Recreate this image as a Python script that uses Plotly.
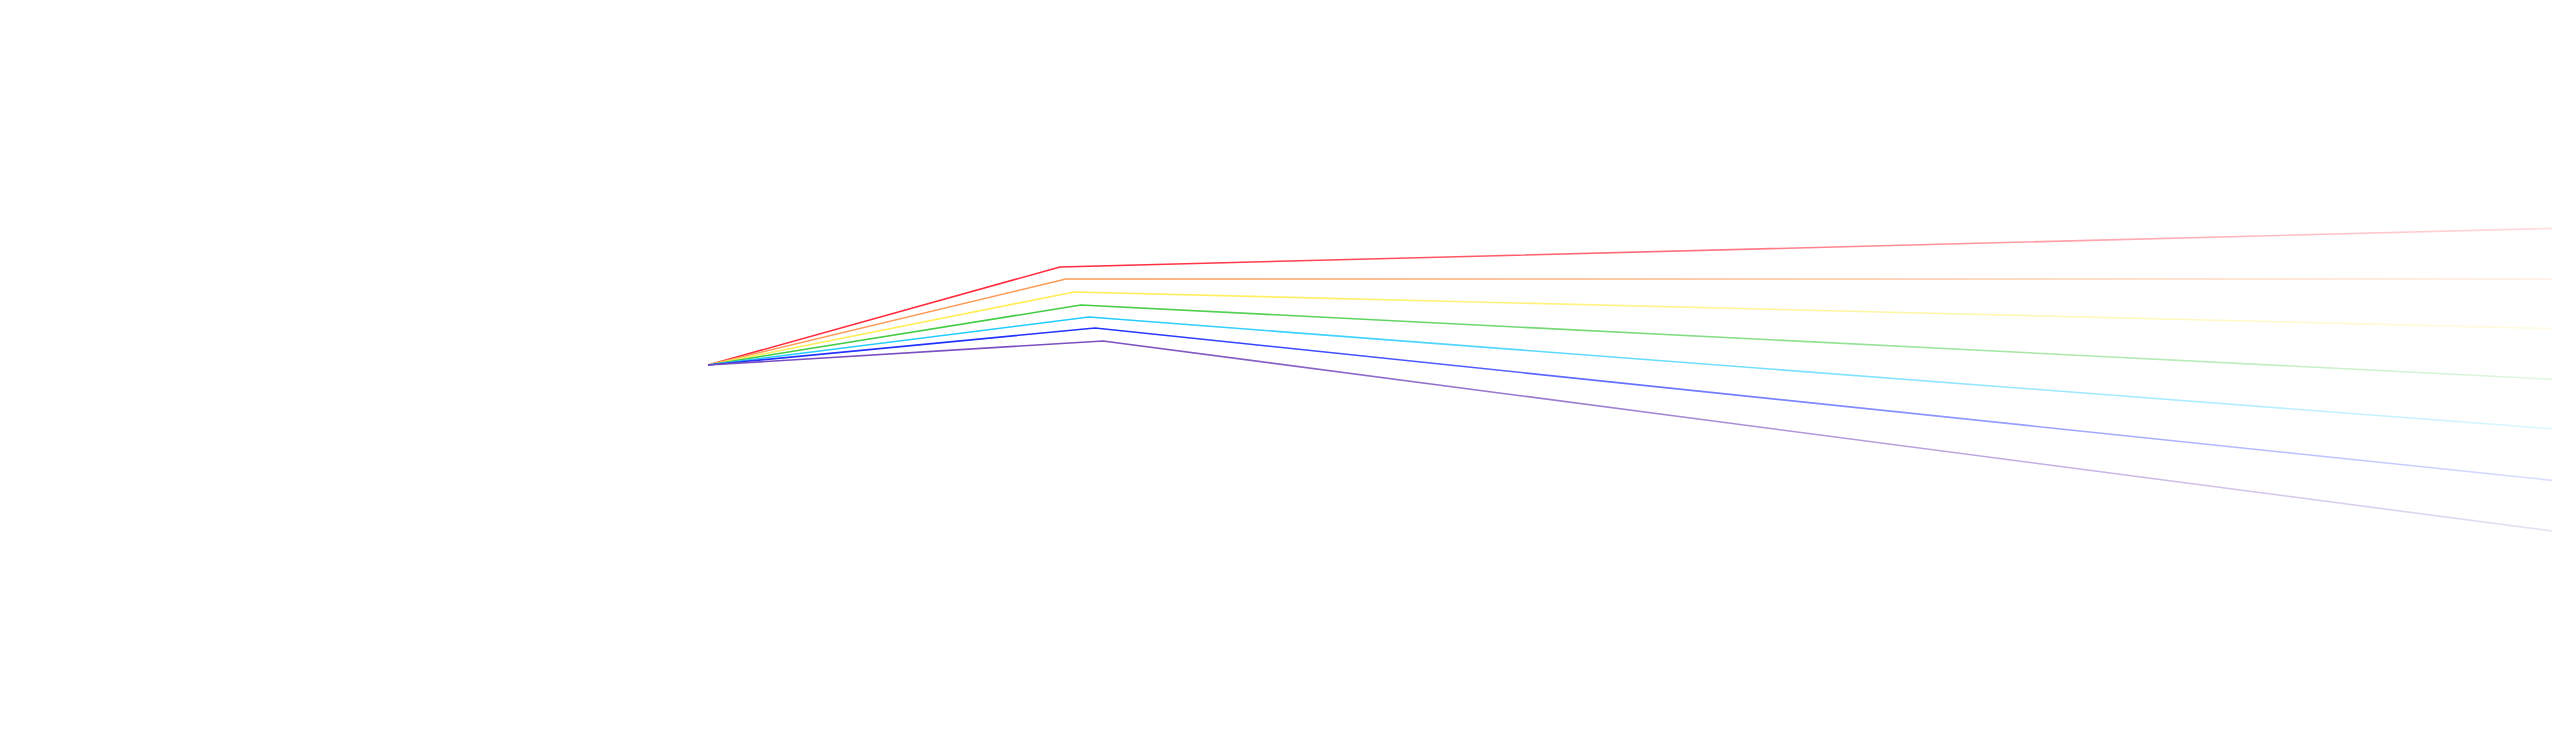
import plotly.graph_objects as go

# prism-style fan: every ray starts at one point, bends once, then runs off the right edge
names = ["red", "orange", "yellow", "green", "cyan", "blue", "violet"]
colors = ["#ff2a3c", "#ff9a55", "#ffee55", "#44cc44", "#22ccff", "#2233ff", "#7a4fc0"]

start_x = 700
start_y = 357

bend_x = [1052, 1058, 1066, 1073, 1081, 1087, 1095]
bend_y = [259, 271, 284, 297, 309, 320, 333]

end_x = 2560
end_y = [220, 271, 321, 372, 422, 474, 525]

fig = go.Figure()

for name, col, bx, by, ey in zip(names, colors, bend_x, bend_y, end_y):
    fig.add_trace(go.Scatter(
        x=[start_x, bx, end_x],
        y=[start_y, by, ey],
        mode="lines",
        name=name,
        line=dict(color=col, width=1.6),
        hoverinfo="skip",
        showlegend=False,
    ))

# white veil that gets stronger to the right so the rays fade out
fig.add_trace(go.Scatter(
    x=[1090, end_x, end_x, 1090, 1090],
    y=[0, 0, 735, 735, 0],
    mode="lines",
    fill="toself",
    fillgradient=dict(
        type="horizontal",
        colorscale=[[0, "rgba(255,255,255,0)"], [1, "rgba(255,255,255,0.85)"]],
    ),
    line=dict(width=0),
    hoverinfo="skip",
    showlegend=False,
))

fig.update_xaxes(range=[0, 2560], visible=False)
fig.update_yaxes(range=[735, 0], visible=False)
fig.update_layout(
    width=2560, height=735,
    margin=dict(l=0, r=0, t=0, b=0),
    paper_bgcolor="white", plot_bgcolor="white",
)

fig.write_html("out.html")
